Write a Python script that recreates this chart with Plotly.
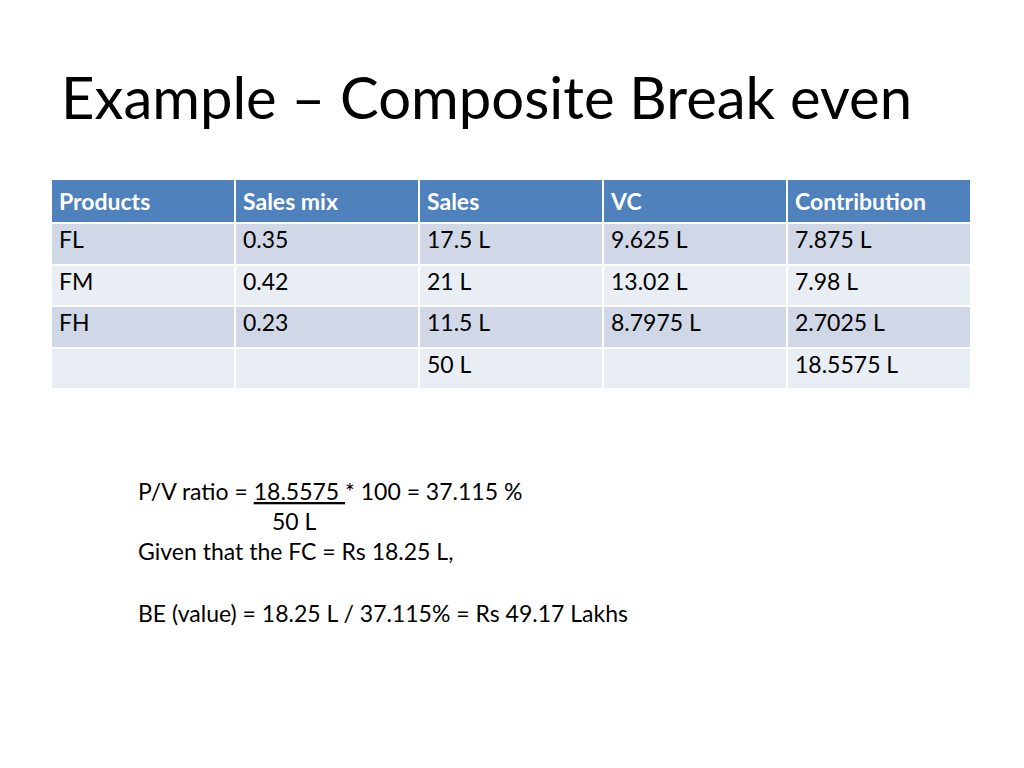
import plotly.graph_objects as go

title_text = "Example – Composite Break even"
headers = ["Products", "Sales mix", "Sales", "VC", "Contribution"]
products = ["FL", "FM", "FH", ""]
sales_mix = ["0.35", "0.42", "0.23", ""]
sales = ["17.5 L", "21 L", "11.5 L", "50 L"]
vc = ["9.625 L", "13.02 L", "8.7975 L", ""]
contribution = ["7.875 L", "7.98 L", "2.7025 L", "18.5575 L"]

note_lines = [
    "P/V ratio = <u>18.5575 </u>* 100 = 37.115 %",
    "50 L",
    "Given that the FC = Rs 18.25 L,",
    "",
    "BE (value) = 18.25 L / 37.115% = Rs 49.17 Lakhs",
]
note_x = [139, 273, 139, 139, 139]
note_y = [491, 521, 551, 582, 613]

W, H = 1024, 768
DX, DY = 9, 8  # page offset correction
FONT = "Lato"
row_colors = ["#D0D8E8", "#E9EDF4", "#D0D8E8", "#E9EDF4"]


def px(x):
    return (x - DX) / W


def py(y):
    return 1 - (y - DY) / H


fig = go.Figure()
fig.add_trace(go.Table(
    domain=dict(x=[px(52), px(972)], y=[py(392), py(179)]),
    columnwidth=[1, 1, 1, 1, 1],
    header=dict(
        values=["<b>%s</b>" % h for h in headers],
        fill_color="#4F81BD",
        line=dict(color="white", width=2),
        align="left",
        height=41,
        font=dict(family=FONT, size=23, color="white"),
    ),
    cells=dict(
        values=[products, sales_mix, sales, vc, contribution],
        fill_color=[row_colors] * 5,
        line=dict(color="white", width=2),
        align="left",
        height=41.5,
        font=dict(family=FONT, size=23, color="black"),
    ),
))

fig.add_annotation(
    x=(63 - 12) / W, y=1 - (98 - 10) / H, xref="paper", yref="paper",
    text=title_text, showarrow=False, xanchor="left", yanchor="middle",
    font=dict(family=FONT, size=58, color="black"),
)

for line, xx, yy in zip(note_lines, note_x, note_y):
    if not line:
        continue
    fig.add_annotation(
        x=(xx - 11) / W, y=py(yy), xref="paper", yref="paper",
        text=line, showarrow=False,
        xanchor="left", yanchor="middle",
        font=dict(family=FONT, size=23, color="black"),
    )

fig.update_layout(
    width=W, height=H,
    margin=dict(l=0, r=0, t=0, b=0),
    paper_bgcolor="white", plot_bgcolor="white",
    showlegend=False,
)
fig.write_html("out.html")
